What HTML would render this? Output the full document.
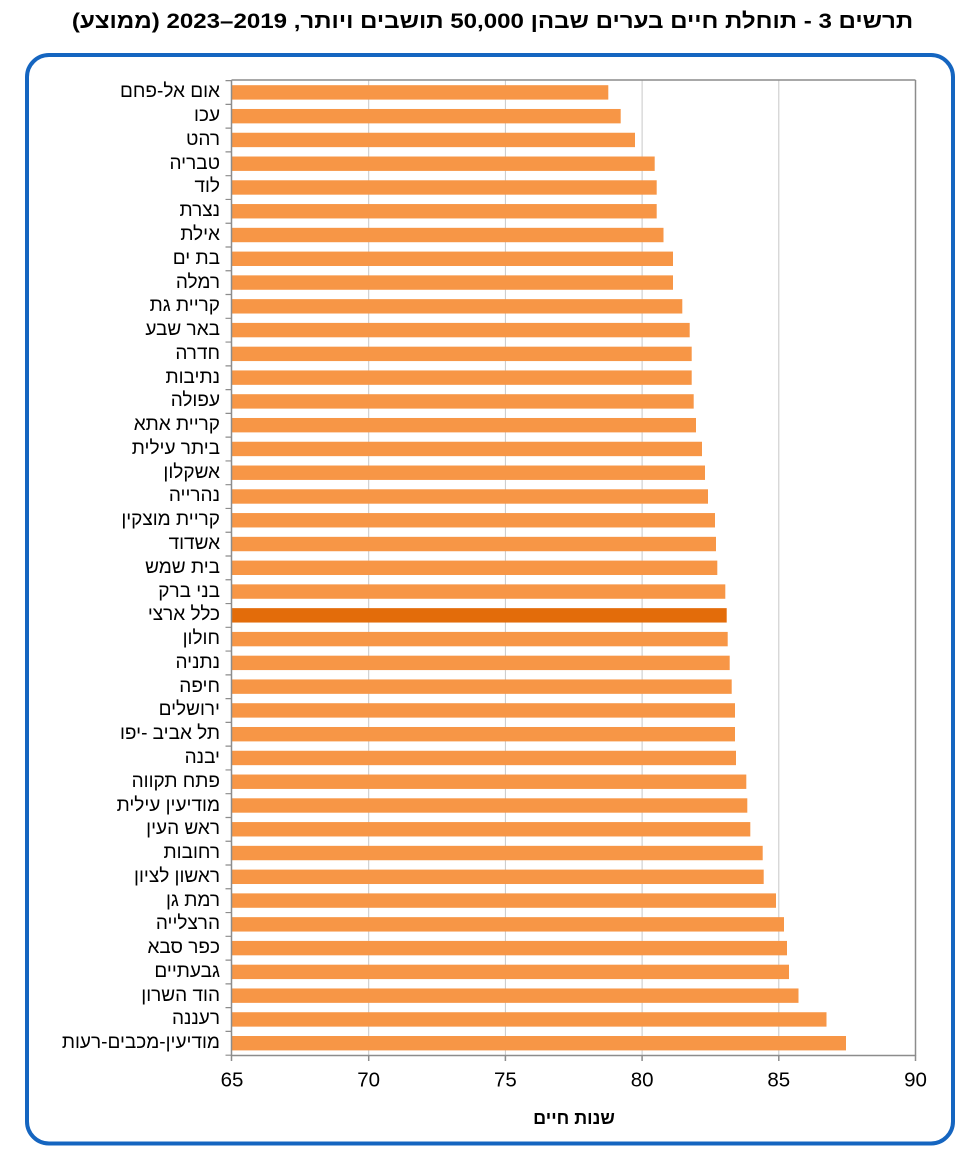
<!DOCTYPE html>
<html lang="he">
<head>
<meta charset="utf-8">
<style>
  html,body{margin:0;padding:0;background:#fff;}
  #wrap{position:relative;width:975px;height:1158px;overflow:hidden;background:#fff;font-family:"Liberation Sans","DejaVu Sans",sans-serif;}
  svg{position:absolute;left:0;top:0;}
  .title{position:absolute;left:0;width:985px;top:4px;height:34px;line-height:34px;text-align:center;font-weight:bold;font-size:21.5px;color:#000;white-space:nowrap;}
  .title span{display:inline-block;transform:scaleX(1.12);transform-origin:center;}
  .lbl{position:absolute;right:755px;height:24px;line-height:24px;font-size:19px;color:#000;white-space:nowrap;text-align:right;direction:rtl;}
</style>
</head>
<body>
<div id="wrap">
<div class="title" dir="rtl"><span>תרשים 3 - תוחלת חיים בערים שבהן 50,000 תושבים ויותר, 2019–2023 (ממוצע)</span></div>

<svg width="975" height="1158" viewBox="0 0 975 1158" xmlns="http://www.w3.org/2000/svg">
  <!-- blue frame -->
  <rect x="27" y="55" width="926" height="1088.5" rx="22" ry="22" fill="none" stroke="#1565c0" stroke-width="4"/>
  <!-- gridlines -->
  <g stroke="#c8c8c8" stroke-width="1">
    <line x1="368.7" y1="80" x2="368.7" y2="1055"/>
    <line x1="505.4" y1="80" x2="505.4" y2="1055"/>
    <line x1="642.1" y1="80" x2="642.1" y2="1055"/>
    <line x1="778.8" y1="80" x2="778.8" y2="1055"/>
  </g>
  <!-- plot border -->
  <line x1="231.5" y1="80" x2="915.5" y2="80" stroke="#8c8c8c" stroke-width="1.5"/>
  <line x1="915.5" y1="80" x2="915.5" y2="1055.5" stroke="#8c8c8c" stroke-width="1.5"/>
  <!-- bars -->
  <g fill="#f79646">
    <rect x="232" y="85.2" width="376.3" height="14.4"/>
    <rect x="232" y="108.97" width="388.7" height="14.4"/>
    <rect x="232" y="132.74" width="403" height="14.4"/>
    <rect x="232" y="156.51" width="422.7" height="14.4"/>
    <rect x="232" y="180.28" width="424.7" height="14.4"/>
    <rect x="232" y="204.05" width="424.7" height="14.4"/>
    <rect x="232" y="227.82" width="431.5" height="14.4"/>
    <rect x="232" y="251.59" width="441" height="14.4"/>
    <rect x="232" y="275.36" width="441" height="14.4"/>
    <rect x="232" y="299.13" width="450.3" height="14.4"/>
    <rect x="232" y="322.9" width="457.7" height="14.4"/>
    <rect x="232" y="346.67" width="459.7" height="14.4"/>
    <rect x="232" y="370.44" width="459.7" height="14.4"/>
    <rect x="232" y="394.21" width="461.7" height="14.4"/>
    <rect x="232" y="417.98" width="464" height="14.4"/>
    <rect x="232" y="441.75" width="470" height="14.4"/>
    <rect x="232" y="465.52" width="473" height="14.4"/>
    <rect x="232" y="489.29" width="476" height="14.4"/>
    <rect x="232" y="513.06" width="483" height="14.4"/>
    <rect x="232" y="536.83" width="484" height="14.4"/>
    <rect x="232" y="560.6" width="485.3" height="14.4"/>
    <rect x="232" y="584.37" width="493.3" height="14.4"/>
    <rect x="232" y="608.14" width="494.7" height="14.4" fill="#e36c0a"/>
    <rect x="232" y="631.91" width="495.7" height="14.4"/>
    <rect x="232" y="655.68" width="497.7" height="14.4"/>
    <rect x="232" y="679.45" width="499.7" height="14.4"/>
    <rect x="232" y="703.22" width="503" height="14.4"/>
    <rect x="232" y="726.99" width="503" height="14.4"/>
    <rect x="232" y="750.76" width="504" height="14.4"/>
    <rect x="232" y="774.53" width="514.3" height="14.4"/>
    <rect x="232" y="798.3" width="515.3" height="14.4"/>
    <rect x="232" y="822.07" width="518.3" height="14.4"/>
    <rect x="232" y="845.84" width="530.7" height="14.4"/>
    <rect x="232" y="869.61" width="531.7" height="14.4"/>
    <rect x="232" y="893.38" width="544" height="14.4"/>
    <rect x="232" y="917.15" width="552" height="14.4"/>
    <rect x="232" y="940.92" width="555" height="14.4"/>
    <rect x="232" y="964.69" width="557" height="14.4"/>
    <rect x="232" y="988.46" width="566.5" height="14.4"/>
    <rect x="232" y="1012.23" width="594.5" height="14.4"/>
    <rect x="232" y="1036" width="614" height="14.4"/>
  </g>
  <!-- axes -->
  <line x1="231.5" y1="80" x2="231.5" y2="1056" stroke="#8c8c8c" stroke-width="1.5"/>
  <line x1="231" y1="1055.5" x2="916" y2="1055.5" stroke="#8c8c8c" stroke-width="1.5"/>
  <!-- y ticks -->
  <line x1="228.5" y1="80" x2="228.5" y2="1057" stroke="#8c8c8c" stroke-width="6" stroke-dasharray="1.2 22.57"/>
  <!-- x ticks -->
  <g stroke="#8c8c8c" stroke-width="1.5">
    <line x1="231.5" y1="1055" x2="231.5" y2="1061"/>
    <line x1="368.7" y1="1055" x2="368.7" y2="1061"/>
    <line x1="505.4" y1="1055" x2="505.4" y2="1061"/>
    <line x1="642.1" y1="1055" x2="642.1" y2="1061"/>
    <line x1="778.8" y1="1055" x2="778.8" y2="1061"/>
    <line x1="915.5" y1="1055" x2="915.5" y2="1061"/>
  </g>
  <!-- x tick labels -->
  <g font-family="Liberation Sans, DejaVu Sans, sans-serif" font-size="20.5" fill="#000" text-anchor="middle">
    <text x="232" y="1086.5">65</text>
    <text x="368.7" y="1086.5">70</text>
    <text x="505.4" y="1086.5">75</text>
    <text x="642.1" y="1086.5">80</text>
    <text x="778.8" y="1086.5">85</text>
    <text x="915.5" y="1086.5">90</text>
  </g>
</svg>

<div style="position:absolute;left:474px;width:200px;top:1106px;height:24px;line-height:24px;text-align:center;font-weight:bold;font-size:18px;direction:rtl;white-space:nowrap;">שנות חיים</div>

<div class="lbl" style="top:80.4px">אום אל-פחם</div>
<div class="lbl" style="top:104.17px">עכו</div>
<div class="lbl" style="top:127.94px">רהט</div>
<div class="lbl" style="top:151.71px">טבריה</div>
<div class="lbl" style="top:175.48px">לוד</div>
<div class="lbl" style="top:199.25px">נצרת</div>
<div class="lbl" style="top:223.02px">אילת</div>
<div class="lbl" style="top:246.79px">בת ים</div>
<div class="lbl" style="top:270.56px">רמלה</div>
<div class="lbl" style="top:294.33px">קריית גת</div>
<div class="lbl" style="top:318.1px">באר שבע</div>
<div class="lbl" style="top:341.87px">חדרה</div>
<div class="lbl" style="top:365.64px">נתיבות</div>
<div class="lbl" style="top:389.41px">עפולה</div>
<div class="lbl" style="top:413.18px">קריית אתא</div>
<div class="lbl" style="top:436.95px">ביתר עילית</div>
<div class="lbl" style="top:460.72px">אשקלון</div>
<div class="lbl" style="top:484.49px">נהרייה</div>
<div class="lbl" style="top:508.26px">קריית מוצקין</div>
<div class="lbl" style="top:532.03px">אשדוד</div>
<div class="lbl" style="top:555.8px">בית שמש</div>
<div class="lbl" style="top:579.57px">בני ברק</div>
<div class="lbl" style="top:603.34px">כלל ארצי</div>
<div class="lbl" style="top:627.11px">חולון</div>
<div class="lbl" style="top:650.88px">נתניה</div>
<div class="lbl" style="top:674.65px">חיפה</div>
<div class="lbl" style="top:698.42px">ירושלים</div>
<div class="lbl" style="top:722.19px">תל אביב -יפו</div>
<div class="lbl" style="top:745.96px">יבנה</div>
<div class="lbl" style="top:769.73px">פתח תקווה</div>
<div class="lbl" style="top:793.5px">מודיעין עילית</div>
<div class="lbl" style="top:817.27px">ראש העין</div>
<div class="lbl" style="top:841.04px">רחובות</div>
<div class="lbl" style="top:864.81px">ראשון לציון</div>
<div class="lbl" style="top:888.58px">רמת גן</div>
<div class="lbl" style="top:912.35px">הרצלייה</div>
<div class="lbl" style="top:936.12px">כפר סבא</div>
<div class="lbl" style="top:959.89px">גבעתיים</div>
<div class="lbl" style="top:983.66px">הוד השרון</div>
<div class="lbl" style="top:1007.43px">רעננה</div>
<div class="lbl" style="top:1031.2px">מודיעין-מכבים-רעות</div>
</div>
</body>
</html>
